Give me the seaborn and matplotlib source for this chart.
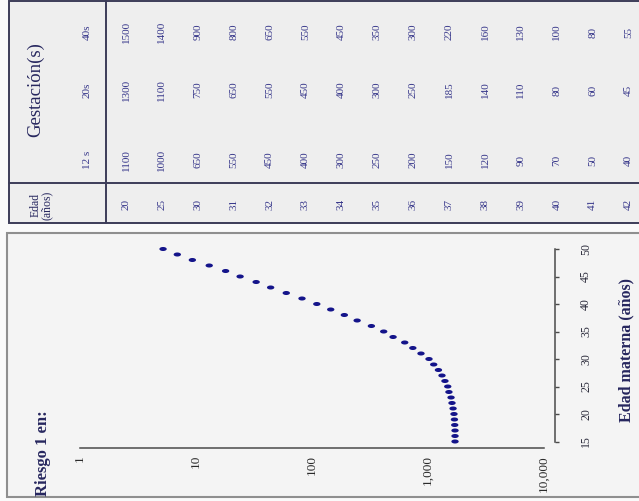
import numpy as np
import pandas as pd
import matplotlib
matplotlib.use("Agg")
import matplotlib.pyplot as plt
import seaborn as sns
from matplotlib.path import Path
from matplotlib.patches import Rectangle
from matplotlib.lines import Line2D
from matplotlib.ticker import NullLocator

# ---------------- data ----------------
edad_materna = list(range(15, 51))
riesgo = [1710, 1710, 1710, 1700, 1690, 1675, 1645, 1610, 1580, 1515,
          1480, 1400, 1320, 1230, 1120, 1020, 870, 740, 630, 500,
          415, 325, 245, 190, 145, 110, 82, 60, 44, 33,
          24, 18, 13, 9.3, 6.9, 5.2]
risk_ticks = [1, 10, 100, 1000, 10000]
risk_tick_labels = ["1", "10", "100", "1,000", "10,000"]
age_ticks = [15, 20, 25, 30, 35, 40, 45, 50]

tabla_edad = [20, 25, 30, 31, 32, 33, 34, 35, 36, 37, 38, 39, 40, 41, 42]
gest_12s = [1100, 1000, 650, 550, 450, 400, 300, 250, 200, 150, 120, 90, 70, 50, 40]
gest_20s = [1300, 1100, 750, 650, 550, 450, 400, 300, 250, 185, 140, 110, 80, 60, 45]
gest_40s = [1500, 1400, 900, 800, 650, 550, 450, 350, 300, 220, 160, 130, 100, 80, 55]
gest_labels = ["12 s", "20s", "40s"]

# ---------------- style ----------------
sns.set_style("white")
plt.rcParams['font.family'] = ['Liberation Serif', 'DejaVu Serif']

W, H = 639, 501
fig = plt.figure(figsize=(W / 100, H / 100), dpi=100, facecolor='#fafafa')


def fx(x):
    return x / W


def fy(y):
    return 1 - y / H


navy = '#26265e'
txt_blue = '#36368a'
line_col = '#3c3c58'

# panels (behind everything)
fig.add_artist(Rectangle((fx(9), fy(223)), (W + 10 - 9) / W, (223 - 1) / H,
                         transform=fig.transFigure, facecolor='#eeeeee',
                         edgecolor=line_col, lw=1.4, zorder=-10))
fig.add_artist(Rectangle((fx(7), fy(497)), (W + 10 - 7) / W, (497 - 233) / H,
                         transform=fig.transFigure, facecolor='#f4f4f4',
                         edgecolor='#8f8f8f', lw=1.5, zorder=-10))
fig.add_artist(Line2D([fx(106), fx(106)], [fy(1), fy(223)], transform=fig.transFigure,
                      color=line_col, lw=1.4, zorder=-5))
fig.add_artist(Line2D([fx(9), fx(W)], [fy(183), fy(183)], transform=fig.transFigure,
                      color=line_col, lw=1.4, zorder=-5))

# ---------------- table (drawn through an axes in pixel units) ----------------
tax = fig.add_axes([0, 0, 1, 1])
tax.set_xlim(0, W)
tax.set_ylim(H, 0)
tax.axis('off')
tax.patch.set_alpha(0)

col0, step = 126, 35.9
row_y = {'40s': 32, '20s': 90, '12 s': 160, 'edad': 204}
series = {'12 s': gest_12s, '20s': gest_20s, '40s': gest_40s}

tax.text(36, 90, "Gestación(s)", rotation=90, ha='center', va='center',
         fontsize=13.5, color=navy)
tax.text(41, 205, "Edad\n(años)", rotation=90, ha='center', va='center',
         fontsize=8.5, color=navy, linespacing=0.9)
for lab in gest_labels:
    tax.text(87, row_y[lab], lab, rotation=90, ha='center', va='center',
             fontsize=8, color=txt_blue)
for i, e in enumerate(tabla_edad):
    xc = col0 + step * i
    tax.text(xc, row_y['edad'], str(e), rotation=90, ha='center', va='center',
             fontsize=8, color=txt_blue)
    for lab in gest_labels:
        tax.text(xc, row_y[lab], str(series[lab][i]), rotation=90, ha='center',
                 va='center', fontsize=8, color=txt_blue)

# ---------------- scatter chart ----------------
x1, x2 = 80, 544      # px positions of risk 1 and 10000
y15, y50 = 441.5, 249  # px positions of age 15 and 50
ax = fig.add_axes([fx(x1), fy(y15), (x2 - x1) / W, (y15 - y50) / H])
ax.patch.set_alpha(0)

t = np.linspace(0, 2 * np.pi, 48)
ellipse = Path(np.column_stack([np.cos(t), 0.55 * np.sin(t)]), closed=True)

df = pd.DataFrame({'edad': edad_materna, 'riesgo': riesgo})
sns.scatterplot(data=df, x='riesgo', y='edad', ax=ax, marker=ellipse, s=28,
                color='#14148a', edgecolor='none', linewidth=0, clip_on=False)

ax.set_xscale('log')
ax.set_xlim(1, 10000)
ax.set_ylim(15, 50)

for s in ['top', 'left']:
    ax.spines[s].set_visible(False)
ax.spines['bottom'].set_position(('outward', 6.5 * 0.72))
ax.spines['bottom'].set_bounds(1, 10000)
ax.spines['right'].set_position(('outward', 11 * 0.72))
ax.spines['right'].set_bounds(15, 50)
for s in ['bottom', 'right']:
    ax.spines[s].set_color('#4a4a4a')
    ax.spines[s].set_linewidth(1.1)
    ax.spines[s].set_visible(True)

ax.set_xticks(risk_ticks)
ax.set_xticklabels(risk_tick_labels, rotation=90)
ax.xaxis.set_minor_locator(NullLocator())
ax.tick_params(axis='x', length=2, width=1, direction='inout', pad=4,
               labelsize=9.5, colors='#4a4a4a', labelcolor='#2a2a2a')

ax.yaxis.tick_right()
ax.set_yticks(age_ticks)
ax.set_yticklabels([str(a) for a in age_ticks], rotation=90, va='center')
ax.tick_params(axis='y', length=3, width=1, direction='out', pad=15,
               labelsize=8.5, colors='#4a4a4a', labelcolor='#2a2a3a')

ax.set_ylabel("Edad materna (años)", rotation=90, fontsize=11.5, fontweight='bold',
              color=navy, ha='center', va='center')
ax.yaxis.set_label_position('right')
ax.yaxis.set_label_coords(fx(626), fy(350), transform=fig.transFigure)
ax.yaxis.label.set_rotation_mode('default')
ax.yaxis.label.set_va('center')

ax.set_xlabel("Riesgo 1 en:", rotation=90, fontsize=12, fontweight='bold',
              color=navy, ha='center', va='center')
ax.xaxis.set_label_coords(fx(43), fy(453), transform=fig.transFigure)

fig.savefig("out.png", dpi=100, facecolor=fig.get_facecolor())
